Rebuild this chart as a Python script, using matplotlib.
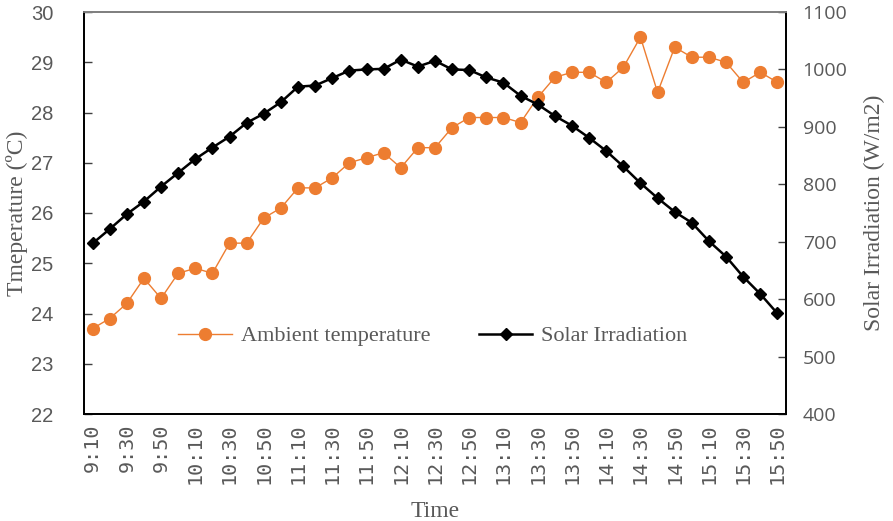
import matplotlib
matplotlib.use("Agg")
import matplotlib.pyplot as plt
from matplotlib.lines import Line2D

# Sampling times (every 10 minutes)
times = ["9:10", "9:20", "9:30", "9:40", "9:50", "10:00", "10:10", "10:20", "10:30", "10:40",
         "10:50", "11:00", "11:10", "11:20", "11:30", "11:40", "11:50", "12:00", "12:10", "12:20",
         "12:30", "12:40", "12:50", "13:00", "13:10", "13:20", "13:30", "13:40", "13:50", "14:00",
         "14:10", "14:20", "14:30", "14:40", "14:50", "15:00", "15:10", "15:20", "15:30", "15:40",
         "15:50"]

# Ambient temperature (°C)
ambient_temp = [23.7, 23.9, 24.2, 24.7, 24.3, 24.8, 24.9, 24.8, 25.4, 25.4,
                25.9, 26.1, 26.5, 26.5, 26.7, 27.0, 27.1, 27.2, 26.9, 27.3,
                27.3, 27.7, 27.9, 27.9, 27.9, 27.8, 28.3, 28.7, 28.8, 28.8,
                28.6, 28.9, 29.5, 28.4, 29.3, 29.1, 29.1, 29.0, 28.6, 28.8,
                28.6]

# Solar irradiation (W/m2)
solar_irr = [697, 722, 748, 770, 796, 820, 844, 864, 883, 907,
             923, 943, 970, 972, 985, 998, 1000, 1001, 1017, 1005,
             1015, 1000, 999, 986, 977, 954, 939, 919, 902, 881,
             858, 831, 802, 776, 752, 733, 701, 674, 639, 609,
             575]

temp_ticks = [22, 23, 24, 25, 26, 27, 28, 29, 30]
irr_ticks = [400, 500, 600, 700, 800, 900, 1000, 1100]

ORANGE = "#ED7D31"
GRAY = "#595959"
SERIF = ["Liberation Serif", "DejaVu Serif"]

fig = plt.figure(figsize=(8.93, 5.21), dpi=100)
ax = fig.add_axes([84 / 893, 1 - 414 / 521, (786 - 84) / 893, (414 - 12) / 521])
ax2 = ax.twinx()

x = list(range(len(times)))
ax.plot(x, ambient_temp, color=ORANGE, lw=1.0, marker="o", ms=8.5,
        markeredgecolor=ORANGE, markerfacecolor=ORANGE, zorder=3)
ax2.plot(x, solar_irr, color="black", lw=1.8, marker="D", ms=6.5,
         markeredgecolor="black", markerfacecolor="black", zorder=3)

ax.set_xlim(-0.5, len(times) - 0.5)
ax.set_ylim(22, 30)
ax2.set_ylim(400, 1100)

ax.set_yticks(temp_ticks)
ax.set_yticklabels([str(t) for t in temp_ticks],
                   fontfamily=["Liberation Sans Narrow", "Liberation Sans"],
                   fontsize=14.5, color=GRAY)
ax2.set_yticks(irr_ticks)
ax2.set_yticklabels([str(t) for t in irr_ticks], fontfamily=["Open Sans", "DejaVu Sans"],
                    fontsize=14, color=GRAY)

ax.set_xticks(x[::2])
ax.set_xticklabels(times[::2], rotation=90, fontfamily="DejaVu Sans Mono",
                   fontsize=14.5, color=GRAY)

ax.tick_params(axis="x", length=0, pad=7)
ax.tick_params(axis="y", direction="in", length=6, width=1, color="#404040", pad=22)
ax2.tick_params(axis="y", direction="in", length=6, width=1, color="#404040", pad=12)

for a in (ax, ax2):
    a.spines["top"].set_color("#808080")
    a.spines["left"].set_color("black")
    a.spines["right"].set_color("black")
    a.spines["bottom"].set_color("black")
    for s in a.spines.values():
        s.set_linewidth(1.3)

ax.set_ylabel("Tmeperature (ºC)", fontfamily=SERIF, fontsize=17, color=GRAY, labelpad=2)
ax2.set_ylabel("Solar Irradiation (W/m2)", fontfamily=SERIF, fontsize=17, color=GRAY,
               labelpad=12)
ax.set_xlabel("Time", fontfamily=SERIF, fontsize=17, color=GRAY, labelpad=12)

handles = [
    Line2D([], [], color=ORANGE, lw=1.0, marker="o", ms=8.5, markerfacecolor=ORANGE,
           markeredgecolor=ORANGE),
    Line2D([], [], color="black", lw=1.8, marker="D", ms=6.5, markerfacecolor="black",
           markeredgecolor="black"),
]
leg = ax2.legend(handles, ["Ambient temperature", "Solar Irradiation"], ncol=2,
                 loc="center", bbox_to_anchor=(433 / 893, 1 - 336 / 521),
                 bbox_transform=fig.transFigure, frameon=False, handlelength=2.4,
                 columnspacing=2.2, handletextpad=0.4,
                 prop={"family": SERIF, "size": 16})
for t in leg.get_texts():
    t.set_color(GRAY)

fig.savefig("out.png", dpi=100)
